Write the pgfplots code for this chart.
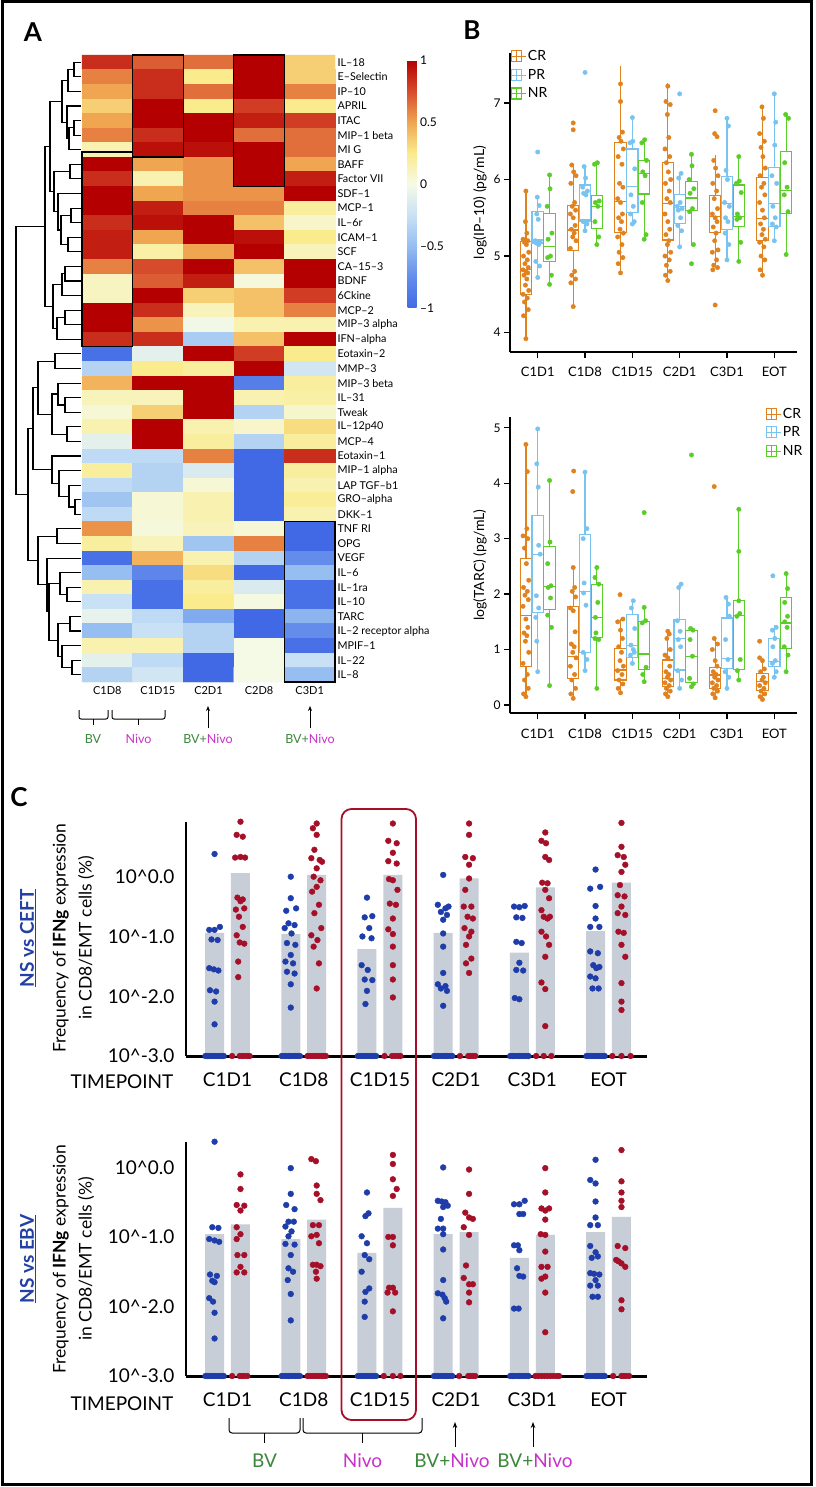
\documentclass[border=0pt]{standalone}
\usepackage{fontspec}
\setmainfont{Lato}
\usepackage{pgfplots}
\pgfplotsset{compat=1.18}
\usepgfplotslibrary{statistics}
\usetikzlibrary{arrows.meta}
\definecolor{crc}{RGB}{224,130,30}
\definecolor{prc}{RGB}{120,195,240}
\definecolor{nrc}{RGB}{90,205,40}
\definecolor{nsblue}{RGB}{30,60,170}
\definecolor{stred}{RGB}{165,15,40}
\definecolor{bargray}{RGB}{200,206,216}
\definecolor{bvgreen}{RGB}{60,135,60}
\definecolor{nivomag}{RGB}{200,50,200}
\definecolor{titleblue}{RGB}{35,65,165}
\newcommand{\fsz}[1]{\fontsize{#1}{#1}\selectfont}
\newcommand{\bx}[7]{\addplot[#1, line width=1.2pt, forget plot, boxplot prepared={draw direction=y, draw position=#2, lower whisker=#3, lower quartile=#4, median=#5, upper quartile=#6, upper whisker=#7, box extend=0.24, whisker extend=0}] coordinates {};}
\pgfplotsset{
 bax/.style={scale only axis, width=287pt, xmin=0.414, xmax=6.48,
   axis x line=bottom, axis y line=left, axis line style={line width=2pt,-},
   xtick={1,2,3,4,5,6}, xticklabels={C1D1,C1D8,C1D15,C2D1,C3D1,EOT},
   tick align=outside, major tick length=6pt, tick style={line width=1.4pt,black},
   xticklabel style={font=\fsz{13}, yshift=-6pt}, yticklabel style={font=\fsz{12}},
   /pgf/number format/assume math mode=true,
   ylabel style={font=\fsz{14}},
   legend style={draw=none, fill=none, font=\fsz{14}, row sep=3pt, inner sep=1pt},
   legend cell align=left},
 cax/.style={scale only axis, width=461pt, height=234.3pt, xmin=0.455, xmax=6.505, ymin=0,
   axis x line=bottom, axis y line=left,
   x axis line style={line width=3pt,-}, y axis line style={line width=1.5pt,-},
   xtick={1,2,3,4,5,6}, xticklabels={C1D1,C1D8,C1D15,C2D1,C3D1,EOT},
   ytick={0,1,2,3}, yticklabels={10\textasciicircum-3.0,10\textasciicircum-2.0,10\textasciicircum-1.0,10\textasciicircum0.0},
   major tick length=0pt,
   xticklabel style={font=\fsz{19}, yshift=-13pt},
   yticklabel style={font=\fsz{19}, xshift=-8pt},
   clip=false},
 bdot/.style={only marks, mark=*, mark size=2.2pt, forget plot},
 cdot/.style={only marks, mark=*, mark size=2.9pt, forget plot},
 dd/.style={black, solid, no markers, line width=1.1pt},
}
\begin{document}
\begin{tikzpicture}
\useasboundingbox (0,0) rectangle (815pt,-1487pt);
\fill[white] (0,0) rectangle (815pt,-1487pt);

% ---------------- Panel A: dendrogram ----------------
\begin{axis}[at={(0pt,-55pt)}, anchor=north west, scale only axis, width=82pt, height=627pt,
  xmin=0, xmax=82, ymin=0.5, ymax=43.5, y dir=reverse, hide axis, clip=false]
\addplot[dd] coordinates {(81,1)(74,1)(74,2)(81,2)};
\addplot[dd] coordinates {(74,1.5)(68,1.5)(68,3)(81,3)};
\addplot[dd] coordinates {(81,5)(74,5)(74,6)(81,6)};
\addplot[dd] coordinates {(74,5.5)(69,5.5)(69,7)(81,7)};
\addplot[dd] coordinates {(81,4)(67,4)(67,6.25)(69,6.25)};
\addplot[dd] coordinates {(68,2.25)(62,2.25)(62,5.125)(67,5.125)};
\addplot[dd] coordinates {(81,8)(70,8)(70,9)(81,9)};
\addplot[dd] coordinates {(81,11)(71,11)(71,12)(81,12)};
\addplot[dd] coordinates {(81,13)(68,13)(68,14)(81,14)};
\addplot[dd] coordinates {(71,11.5)(61,11.5)(61,13.5)(68,13.5)};
\addplot[dd] coordinates {(81,10)(58,10)(58,12.5)(61,12.5)};
\addplot[dd] coordinates {(70,8.5)(54,8.5)(54,11.25)(58,11.25)};
\addplot[dd] coordinates {(62,3.6875)(50,3.6875)(50,9.875)(54,9.875)};
\addplot[dd] coordinates {(81,15)(65,15)(65,16)(81,16)};
\addplot[dd] coordinates {(65,15.5)(62,15.5)(62,17)(81,17)};
\addplot[dd] coordinates {(81,18)(65,18)(65,19)(81,19)};
\addplot[dd] coordinates {(65,18.5)(57,18.5)(57,20)(81,20)};
\addplot[dd] coordinates {(62,16.25)(53,16.25)(53,19.25)(57,19.25)};
\addplot[dd] coordinates {(50,6.78)(45,6.78)(45,17.75)(53,17.75)};
\addplot[dd] coordinates {(81,21)(55,21)(55,22)(81,22)};
\addplot[dd] coordinates {(81,24)(65,24)(65,25)(81,25)};
\addplot[dd] coordinates {(81,23)(58,23)(58,24.5)(65,24.5)};
\addplot[dd] coordinates {(81,26)(67,26)(67,27)(81,27)};
\addplot[dd] coordinates {(58,23.75)(52,23.75)(52,26.5)(67,26.5)};
\addplot[dd] coordinates {(55,21.5)(38,21.5)(38,25.125)(52,25.125)};
\addplot[dd] coordinates {(81,31)(75,31)(75,32)(81,32)};
\addplot[dd] coordinates {(81,30)(69,30)(69,31.5)(75,31.5)};
\addplot[dd] coordinates {(81,29)(59,29)(59,30.75)(69,30.75)};
\addplot[dd] coordinates {(81,28)(52,28)(52,29.875)(59,29.875)};
\addplot[dd] coordinates {(38,23.31)(33,23.31)(33,28.94)(52,28.94)};
\addplot[dd] coordinates {(81,33)(57,33)(57,34)(81,34)};
\addplot[dd] coordinates {(81,37)(67,37)(67,38)(81,38)};
\addplot[dd] coordinates {(81,36)(60,36)(60,37.5)(67,37.5)};
\addplot[dd] coordinates {(81,39)(70,39)(70,40)(81,40)};
\addplot[dd] coordinates {(81,42)(72,42)(72,43)(81,43)};
\addplot[dd] coordinates {(81,41)(62,41)(62,42.5)(72,42.5)};
\addplot[dd] coordinates {(70,39.5)(58,39.5)(58,41.75)(62,41.75)};
\addplot[dd] coordinates {(60,36.75)(49,36.75)(49,40.625)(58,40.625)};
\addplot[dd] coordinates {(81,35)(47,35)(47,38.69)(49,38.69)};
\addplot[dd] coordinates {(57,33.5)(38,33.5)(38,36.84)(47,36.84)};
\addplot[dd] coordinates {(33,26.12)(28,26.12)(28,35.17)(38,35.17)};
\addplot[dd] coordinates {(45,12.27)(16,12.27)(16,30.65)(28,30.65)};
\end{axis}

% ---------------- Panel A: heatmap ----------------
\begin{axis}[at={(82pt,-55pt)}, anchor=north west, scale only axis, width=253pt, height=627pt,
  xmin=-0.5, xmax=4.5, ymin=0.5, ymax=43.5, y dir=reverse, clip=false,
  axis line style={draw=none}, major tick length=0pt,
  xtick={0,1,2,3,4}, xticklabels={C1D8,C1D15,C2D1,C2D8,C3D1},
  xticklabel style={font=\fsz{11}, yshift=-1pt},
  ytick={1,...,43},
  yticklabels={IL–18,E–Selectin,IP–10,APRIL,ITAC,MIP–1 beta,MI G,BAFF,Factor VII,SDF–1,MCP–1,IL–6r,ICAM–1,SCF,CA–15–3,BDNF,6Ckine,MCP–2,MIP–3 alpha,IFN–alpha,Eotaxin–2,MMP–3,MIP–3 beta,IL–31,Tweak,IL–12p40,MCP–4,Eotaxin–1,MIP–1 alpha,LAP TGF–b1,GRO–alpha,DKK–1,TNF RI,OPG,VEGF,IL–6,IL–1ra,IL–10,TARC,IL–2 receptor alpha,MPIF–1,IL–22,IL–8},
  yticklabel pos=right,
  yticklabel style={font=\fsz{10.8}, anchor=west, xshift=-1pt},
  colormap={hm}{rgb255=(65,105,230) rgb255=(100,140,235) rgb255=(150,190,240) rgb255=(200,225,245) rgb255=(245,250,230) rgb255=(250,235,140) rgb255=(240,165,80) rgb255=(215,75,45) rgb255=(180,0,0)},
  point meta min=-1, point meta max=1,
  colorbar,
  colorbar style={at={(parent axis.north east)}, anchor=north west, xshift=64pt, yshift=-5pt,
    width=9pt, height=248pt, ytick={-1,-0.5,0,0.5,1}, yticklabels={–1,–0.5,0,0.5,1},
    yticklabel style={font=\fsz{12}}, axis line style={draw=none}, major tick length=0pt},
]
\addplot[matrix plot*, mesh/cols=5, point meta=explicit] coordinates {
(0,1)[0.85] (1,1)[0.7] (2,1)[0.65] (3,1)[1] (4,1)[0.35]
(0,2)[0.6] (1,2)[0.85] (2,2)[0.25] (3,2)[1] (4,2)[0.35]
(0,3)[0.5] (1,3)[0.85] (2,3)[0.65] (3,3)[1] (4,3)[0.6]
(0,4)[0.35] (1,4)[1] (2,4)[0.25] (3,4)[0.8] (4,4)[0.25]
(0,5)[0.5] (1,5)[1] (2,5)[1] (3,5)[0.9] (4,5)[0.8]
(0,6)[0.6] (1,6)[0.85] (2,6)[1] (3,6)[0.65] (4,6)[0.65]
(0,7)[0.15] (1,7)[0.95] (2,7)[0.95] (3,7)[1] (4,7)[0.65]
(0,8)[1] (1,8)[0.5] (2,8)[0.55] (3,8)[1] (4,8)[0.5]
(0,9)[0.85] (1,9)[0.15] (2,9)[0.55] (3,9)[1] (4,9)[0.9]
(0,10)[1] (1,10)[0.5] (2,10)[0.55] (3,10)[0.55] (4,10)[1]
(0,11)[1] (1,11)[0.9] (2,11)[0.6] (3,11)[0.6] (4,11)[0.2]
(0,12)[0.85] (1,12)[0.95] (2,12)[1] (3,12)[0.4] (4,12)[0.08]
(0,13)[0.9] (1,13)[0.5] (2,13)[1] (3,13)[0.95] (4,13)[0.25]
(0,14)[0.9] (1,14)[0.18] (2,14)[0.5] (3,14)[1] (4,14)[0.12]
(0,15)[0.6] (1,15)[0.75] (2,15)[1] (3,15)[0.4] (4,15)[1]
(0,16)[0.1] (1,16)[0.7] (2,16)[0.9] (3,16)[0.03] (4,16)[1]
(0,17)[0.1] (1,17)[1] (2,17)[0.35] (3,17)[0.4] (4,17)[0.8]
(0,18)[1] (1,18)[0.85] (2,18)[0.12] (3,18)[0.4] (4,18)[0.6]
(0,19)[1] (1,19)[0.55] (2,19)[-0.02] (3,19)[0.15] (4,19)[0.15]
(0,20)[0.85] (1,20)[0.85] (2,20)[-0.4] (3,20)[0.4] (4,20)[1]
(0,21)[-0.95] (1,21)[-0.1] (2,21)[1] (3,21)[0.8] (4,21)[0.25]
(0,22)[-0.35] (1,22)[0.25] (2,22)[0.2] (3,22)[1] (4,22)[-0.2]
(0,23)[0.45] (1,23)[1] (2,23)[1] (3,23)[-0.85] (4,23)[0.2]
(0,24)[0.12] (1,24)[0.12] (2,24)[1] (3,24)[0.15] (4,24)[0.18]
(0,25)[0.05] (1,25)[0.35] (2,25)[1] (3,25)[-0.35] (4,25)[0.07]
(0,26)[0.15] (1,26)[1] (2,26)[0.15] (3,26)[0.08] (4,26)[0.3]
(0,27)[-0.1] (1,27)[1] (2,27)[0.2] (3,27)[-0.35] (4,27)[0.2]
(0,28)[-0.3] (1,28)[-0.3] (2,28)[0.6] (3,28)[-1] (4,28)[0.85]
(0,29)[0.2] (1,29)[-0.35] (2,29)[-0.15] (3,29)[-1] (4,29)[0.2]
(0,30)[-0.3] (1,30)[-0.35] (2,30)[0.05] (3,30)[-1] (4,30)[0.15]
(0,31)[-0.45] (1,31)[0.05] (2,31)[0.15] (3,31)[-1] (4,31)[0.22]
(0,32)[-0.3] (1,32)[0.05] (2,32)[0.15] (3,32)[-1] (4,32)[0.15]
(0,33)[0.55] (1,33)[0.03] (2,33)[0.12] (3,33)[0.05] (4,33)[-1]
(0,34)[0.2] (1,34)[0.12] (2,34)[-0.45] (3,34)[0.6] (4,34)[-1]
(0,35)[-0.95] (1,35)[0.45] (2,35)[0.15] (3,35)[-0.35] (4,35)[-0.75]
(0,36)[-0.5] (1,36)[-0.8] (2,36)[0.3] (3,36)[-1] (4,36)[-0.5]
(0,37)[0.15] (1,37)[-0.95] (2,37)[0.2] (3,37)[-0.15] (4,37)[-0.95]
(0,38)[-0.25] (1,38)[-0.95] (2,38)[0.25] (3,38)[0.02] (4,38)[-0.95]
(0,39)[-0.08] (1,39)[-0.3] (2,39)[-0.6] (3,39)[-1] (4,39)[-0.55]
(0,40)[-0.5] (1,40)[-0.25] (2,40)[-0.35] (3,40)[-1] (4,40)[-0.75]
(0,41)[0.15] (1,41)[0.15] (2,41)[-0.35] (3,41)[0.0] (4,41)[-0.95]
(0,42)[-0.1] (1,42)[-0.3] (2,42)[-1] (3,42)[0.0] (4,42)[-0.25]
(0,43)[-0.35] (1,43)[-0.2] (2,43)[-1] (3,43)[0.0] (4,43)[-0.5]
};
\draw[black, line width=1.3pt] (axis cs:0.5,0.5) rectangle (axis cs:1.5,7.5);
\draw[black, line width=1.3pt] (axis cs:2.5,0.5) rectangle (axis cs:3.5,9.5);
\draw[black, line width=1.3pt] (axis cs:-0.5,7.15) rectangle (axis cs:0.5,20.5);
\draw[black, line width=1.3pt] (axis cs:3.5,32.5) rectangle (axis cs:4.5,43.5);
\end{axis}

% annotations under heatmap
\draw[line width=1pt, rounded corners=2pt] (79pt,-710pt) -- (79pt,-719pt) -- (108pt,-719pt) -- (108pt,-710pt);
\draw[line width=1pt] (93.5pt,-719pt) -- (93.5pt,-725pt);
\draw[line width=1pt, rounded corners=2pt] (112pt,-710pt) -- (112pt,-719pt) -- (165pt,-719pt) -- (165pt,-710pt);
\draw[line width=1pt] (138.5pt,-719pt) -- (138.5pt,-725pt);
\draw[line width=1pt, -{Stealth[length=5pt,width=4pt]}] (208pt,-728pt) -- (208pt,-706pt);
\draw[line width=1pt, -{Stealth[length=5pt,width=4pt]}] (310pt,-728pt) -- (310pt,-706pt);
\node[font=\fsz{12.5}, text=bvgreen] at (93pt,-739pt) {BV};
\node[font=\fsz{12.5}, text=nivomag] at (138.5pt,-739pt) {Nivo};
\node[font=\fsz{12.5}] at (208pt,-739pt) {\textcolor{bvgreen}{BV+}\textcolor{nivomag}{Nivo}};
\node[font=\fsz{12.5}] at (310pt,-739pt) {\textcolor{bvgreen}{BV+}\textcolor{nivomag}{Nivo}};

% ---------------- Panel B top: IP-10 ----------------
\begin{axis}[bax, at={(510pt,-351.7pt)}, anchor=south west, height=298.4pt,
  ymin=3.75, ymax=7.65, ytick={4,5,6,7}, ylabel={log(IP–10) (pg/mL)},
  legend style={at={(0.0,1.02)}, anchor=north west},
  legend image code/.code={\draw[#1, line width=1.1pt] (0pt,-5.5pt) rectangle (10pt,5.5pt); \draw[#1, line width=0.7pt] (0pt,0pt) -- (10pt,0pt) (5pt,-5.5pt) -- (5pt,5.5pt); \path (0pt,0pt) -- (14pt,0pt);}]
\bx{crc}{0.75}{3.93}{4.50}{4.82}{5.19}{5.87}
\bx{crc}{1.75}{4.34}{5.07}{5.34}{5.66}{6.19}
\bx{crc}{2.75}{4.77}{5.31}{5.71}{6.48}{7.48}
\bx{crc}{3.75}{4.68}{5.21}{5.69}{6.22}{7.26}
\bx{crc}{4.75}{4.88}{5.31}{5.52}{5.79}{6.32}
\bx{crc}{5.75}{4.72}{5.20}{5.49}{6.03}{6.98}
\bx{prc}{1}{4.71}{5.17}{5.21}{5.58}{5.80}
\bx{prc}{2}{5.32}{5.45}{5.47}{5.93}{6.18}
\bx{prc}{3}{5.41}{5.57}{5.91}{6.40}{6.83}
\bx{prc}{4}{5.12}{5.43}{5.65}{5.80}{6.08}
\bx{prc}{5}{4.95}{5.35}{5.69}{6.04}{6.81}
\bx{prc}{6}{5.19}{5.39}{5.69}{6.16}{7.13}
\bx{nrc}{1.25}{4.62}{4.93}{5.13}{5.56}{6.06}
\bx{nrc}{2.25}{5.14}{5.36}{5.65}{5.79}{6.24}
\bx{nrc}{3.25}{5.21}{5.81}{6.08}{6.25}{6.54}
\bx{nrc}{4.25}{5.13}{5.60}{5.76}{5.97}{6.35}
\bx{nrc}{5.25}{4.93}{5.39}{5.52}{5.93}{6.30}
\bx{nrc}{6.25}{5.01}{5.56}{5.86}{6.37}{6.87}
\addplot[bdot, crc] coordinates {
(0.75,3.92)(0.70,4.22)(0.80,4.30)(0.72,4.40)(0.78,4.45)(0.69,4.50)(0.81,4.55)(0.74,4.62)(0.77,4.70)(0.71,4.75)(0.79,4.78)(0.75,4.80)(0.69,4.82)(0.80,4.85)(0.73,4.90)(0.78,4.95)(0.70,5.00)(0.81,5.05)(0.76,5.15)(0.72,5.18)(0.79,5.20)(0.69,5.22)(0.77,5.30)(0.74,5.45)(0.75,5.85)
(1.75,4.34)(1.70,4.65)(1.80,4.70)(1.72,4.75)(1.78,4.80)(1.69,5.10)(1.81,5.20)(1.74,5.25)(1.77,5.30)(1.71,5.35)(1.79,5.40)(1.75,5.50)(1.69,5.55)(1.80,5.60)(1.73,5.65)(1.78,5.70)(1.70,5.95)(1.81,6.05)(1.76,6.10)(1.72,6.19)(1.75,6.65)(1.75,6.74)
(2.75,4.78)(2.70,4.90)(2.80,4.98)(2.72,5.05)(2.78,5.15)(2.69,5.25)(2.81,5.30)(2.74,5.35)(2.77,5.45)(2.71,5.50)(2.79,5.55)(2.75,5.70)(2.69,5.75)(2.80,5.90)(2.73,5.95)(2.78,6.20)(2.70,6.30)(2.81,6.40)(2.76,6.50)(2.72,6.55)(2.79,6.62)(2.75,7.02)(2.75,7.25)
(3.75,4.68)(3.70,4.75)(3.80,4.80)(3.72,4.88)(3.78,4.95)(3.69,5.00)(3.81,5.05)(3.74,5.15)(3.77,5.20)(3.71,5.28)(3.79,5.35)(3.75,5.45)(3.69,5.55)(3.80,5.70)(3.73,5.75)(3.78,5.85)(3.70,5.95)(3.81,6.00)(3.76,6.10)(3.72,6.22)(3.79,6.30)(3.69,6.40)(3.77,6.55)(3.74,6.85)(3.80,6.98)(3.71,7.02)(3.75,7.22)
(4.75,4.36)(4.70,4.82)(4.80,4.85)(4.72,4.88)(4.78,4.95)(4.69,5.05)(4.81,5.08)(4.74,5.20)(4.77,5.30)(4.71,5.38)(4.79,5.45)(4.75,5.50)(4.69,5.55)(4.80,5.62)(4.73,5.75)(4.78,5.85)(4.70,5.95)(4.81,6.05)(4.76,6.15)(4.72,6.25)(4.79,6.56)(4.74,6.60)(4.75,6.90)
(5.75,4.75)(5.70,4.82)(5.80,4.95)(5.72,5.00)(5.78,5.12)(5.69,5.18)(5.81,5.22)(5.74,5.28)(5.77,5.35)(5.71,5.42)(5.79,5.50)(5.75,5.60)(5.69,5.70)(5.80,5.80)(5.73,5.90)(5.78,5.95)(5.70,6.05)(5.81,6.15)(5.76,6.30)(5.72,6.42)(5.79,6.50)(5.69,6.60)(5.77,6.80)(5.74,6.95)
};
\addplot[bdot, prc] coordinates {
(1.00,4.72)(1.04,4.87)(0.96,4.93)(1.02,5.15)(0.97,5.17)(1.05,5.18)(0.95,5.20)(1.01,5.48)(0.98,5.55)(1.03,5.66)(0.99,5.77)(1.00,6.36)
(2.00,5.33)(2.04,5.42)(1.96,5.45)(2.02,5.80)(1.97,5.82)(2.05,5.85)(1.95,5.90)(2.01,6.02)(1.98,6.17)(2.00,7.40)
(3.00,5.42)(3.04,5.45)(2.96,5.55)(3.02,5.65)(2.97,5.80)(3.05,6.14)(2.95,6.48)(3.01,6.50)(3.00,6.81)
(4.00,5.12)(4.04,5.33)(3.96,5.40)(4.02,5.50)(3.97,5.60)(4.05,5.62)(3.95,5.65)(4.01,5.70)(3.98,6.02)(4.03,6.08)(4.00,7.12)
(5.00,4.95)(5.04,5.15)(4.96,5.30)(5.02,5.45)(4.97,5.50)(5.05,5.65)(4.95,5.70)(5.01,6.00)(4.98,6.12)(5.03,6.70)(5.00,6.80)
(6.00,5.20)(6.04,5.38)(5.96,5.42)(6.02,5.50)(5.97,5.65)(6.05,5.95)(5.95,6.05)(6.01,6.45)(6.03,6.75)(6.00,7.12)
};
\addplot[bdot, nrc] coordinates {
(1.25,4.63)(1.29,4.75)(1.21,4.98)(1.27,5.00)(1.22,5.22)(1.30,5.30)(1.20,5.65)(1.26,5.88)(1.25,6.06)
(2.25,5.15)(2.29,5.25)(2.21,5.45)(2.27,5.65)(2.22,5.70)(2.30,5.72)(2.20,6.20)(2.26,6.22)
(3.25,5.22)(3.29,5.28)(3.21,5.70)(3.27,6.05)(3.22,6.10)(3.30,6.25)(3.20,6.48)(3.26,6.52)
(4.25,4.90)(4.29,5.15)(4.21,5.58)(4.27,5.62)(4.22,5.82)(4.30,5.88)(4.20,6.00)(4.26,6.18)(4.25,6.33)
(5.25,4.93)(5.29,5.18)(5.21,5.48)(5.27,5.50)(5.22,5.55)(5.30,5.83)(5.20,5.95)(5.26,5.98)(5.25,6.30)
(6.25,5.02)(6.29,5.58)(6.21,5.80)(6.27,5.90)(6.22,6.22)(6.30,6.80)(6.24,6.85)
};
\addlegendimage{crc}\addlegendentry{CR}
\addlegendimage{prc}\addlegendentry{PR}
\addlegendimage{nrc}\addlegendentry{NR}
\end{axis}

% ---------------- Panel B bottom: TARC ----------------
\begin{axis}[bax, at={(510pt,-713.3pt)}, anchor=south west, height=296.6pt,
  ymin=-0.15, ymax=5.2, ytick={0,1,2,3,4,5}, ylabel={log(TARC) (pg/mL)},
  legend style={at={(1.03,1.04)}, anchor=north east},
  legend image code/.code={\draw[#1, line width=1.1pt] (0pt,-5.5pt) rectangle (10pt,5.5pt); \draw[#1, line width=0.7pt] (0pt,0pt) -- (10pt,0pt) (5pt,-5.5pt) -- (5pt,5.5pt); \path (0pt,0pt) -- (14pt,0pt);}]
\bx{crc}{0.75}{0.14}{0.69}{1.62}{2.64}{4.71}
\bx{crc}{1.75}{0.09}{0.48}{0.88}{1.78}{2.47}
\bx{crc}{2.75}{0.20}{0.45}{0.63}{1.02}{1.55}
\bx{crc}{3.75}{0.12}{0.33}{0.48}{0.81}{1.35}
\bx{crc}{4.75}{0.09}{0.30}{0.54}{0.67}{1.23}
\bx{crc}{5.75}{0.09}{0.26}{0.42}{0.57}{0.82}
\bx{prc}{1}{0.58}{1.67}{2.71}{3.42}{4.99}
\bx{prc}{2}{0.60}{0.94}{2.05}{3.07}{4.21}
\bx{prc}{3}{0.72}{0.86}{1.08}{1.63}{1.90}
\bx{prc}{4}{0.27}{0.63}{1.20}{1.54}{2.18}
\bx{prc}{5}{0.27}{0.66}{0.84}{1.57}{1.97}
\bx{prc}{6}{0.48}{0.69}{0.78}{1.20}{1.44}
\bx{nrc}{1.25}{0.34}{1.72}{2.14}{2.86}{4.07}
\bx{nrc}{2.25}{0.30}{1.22}{1.58}{2.17}{2.47}
\bx{nrc}{3.25}{0.42}{0.64}{0.92}{1.51}{1.78}
\bx{nrc}{4.25}{0.33}{0.40}{0.88}{1.35}{1.41}
\bx{nrc}{5.25}{0.42}{0.64}{1.61}{1.89}{3.53}
\bx{nrc}{6.25}{0.60}{1.02}{1.48}{1.94}{2.37}
\addplot[bdot, crc] coordinates {
(0.75,0.15)(0.70,0.20)(0.80,0.30)(0.72,0.45)(0.78,0.55)(0.69,0.75)(0.81,0.95)(0.74,1.15)(0.77,1.25)(0.71,1.30)(0.79,1.40)(0.75,1.55)(0.69,1.78)(0.80,1.90)(0.73,1.98)(0.78,2.05)(0.70,2.12)(0.81,2.25)(0.76,2.55)(0.72,2.83)(0.79,3.00)(0.69,3.05)(0.77,3.18)(0.78,4.21)(0.75,4.70)
(1.75,0.12)(1.70,0.20)(1.80,0.30)(1.72,0.45)(1.78,0.55)(1.69,0.70)(1.81,0.85)(1.74,0.95)(1.77,1.05)(1.71,1.10)(1.79,1.32)(1.75,1.70)(1.69,1.75)(1.80,1.95)(1.73,2.05)(1.78,2.12)(1.75,2.48)(1.74,3.85)(1.76,4.22)
(2.75,0.22)(2.70,0.30)(2.80,0.38)(2.72,0.45)(2.78,0.55)(2.69,0.62)(2.81,0.70)(2.74,0.80)(2.77,0.95)(2.71,1.05)(2.79,1.20)(2.75,1.35)(2.69,1.50)(2.80,1.55)(2.74,1.99)
(3.75,0.15)(3.70,0.20)(3.80,0.25)(3.72,0.30)(3.78,0.35)(3.69,0.40)(3.81,0.45)(3.74,0.50)(3.77,0.55)(3.71,0.60)(3.79,0.70)(3.75,0.85)(3.69,0.90)(3.80,1.00)(3.73,1.20)(3.78,1.28)(3.75,1.33)
(4.75,0.13)(4.70,0.20)(4.80,0.25)(4.72,0.30)(4.78,0.35)(4.69,0.40)(4.81,0.45)(4.74,0.50)(4.77,0.55)(4.71,0.60)(4.79,0.70)(4.75,0.80)(4.69,1.00)(4.80,1.10)(4.73,1.20)(4.73,3.94)
(5.75,0.10)(5.70,0.15)(5.80,0.20)(5.72,0.25)(5.78,0.30)(5.69,0.35)(5.81,0.40)(5.74,0.45)(5.77,0.50)(5.71,0.60)(5.79,0.65)(5.75,0.80)(5.69,0.85)(5.69,1.15)
};
\addplot[bdot, prc] coordinates {
(1.00,0.60)(0.98,1.15)(0.96,1.58)(1.02,1.75)(0.97,1.97)(1.05,2.72)(1.02,2.88)(1.01,3.93)(0.98,4.35)(1.00,4.98)
(2.00,0.62)(2.04,0.82)(1.96,0.95)(2.02,1.80)(1.97,2.02)(1.98,2.20)(1.96,3.00)(2.04,3.18)(2.00,4.20)
(3.00,0.75)(2.96,0.90)(3.04,0.95)(3.02,1.00)(2.97,1.08)(3.05,1.38)(2.98,1.75)(3.02,1.88)
(4.00,0.30)(4.04,0.45)(3.96,0.62)(4.02,1.05)(3.97,1.18)(4.01,1.33)(3.95,1.52)(3.98,2.12)(4.03,2.18)
(5.00,0.30)(5.04,0.50)(4.96,0.60)(5.02,0.82)(4.97,1.18)(5.05,1.60)(5.03,1.82)(4.98,1.94)
(6.00,0.50)(6.04,0.60)(5.96,0.75)(6.02,0.80)(5.97,1.05)(6.01,1.20)(5.96,1.35)(6.04,1.40)(5.97,2.33)
};
\addplot[bdot, nrc] coordinates {
(1.25,0.35)(1.29,1.40)(1.21,1.62)(1.27,1.93)(1.22,2.12)(1.28,2.15)(1.21,2.55)(1.26,2.94)(1.25,4.05)
(2.25,0.30)(2.29,1.18)(2.21,1.20)(2.23,1.30)(2.22,1.58)(2.27,1.85)(2.29,2.18)(2.21,2.30)(2.25,2.48)
(3.25,0.42)(3.22,0.55)(3.29,0.68)(3.21,1.48)(3.28,1.52)(3.25,1.76)(3.25,3.47)
(4.25,0.33)(4.29,0.38)(4.21,0.48)(4.27,0.88)(4.22,1.18)(4.28,1.35)(4.23,1.38)(4.25,4.51)
(5.25,0.45)(5.22,0.62)(5.28,0.82)(5.21,1.60)(5.27,1.65)(5.25,1.88)(5.25,2.77)(5.25,3.53)
(6.25,0.60)(6.29,0.90)(6.21,1.05)(6.27,1.40)(6.22,1.50)(6.28,1.60)(6.22,1.85)(6.28,2.10)(6.25,2.37)
};
\addlegendimage{crc}\addlegendentry{CR}
\addlegendimage{prc}\addlegendentry{PR}
\addlegendimage{nrc}\addlegendentry{NR}
\end{axis}

% ---------------- Panel C top: NS vs CEFT ----------------
\begin{axis}[cax, at={(186pt,-1056pt)}, anchor=south west, ymax=3.92]
\addplot[ybar, bar width=19pt, bar shift=0pt, fill=bargray, draw=none, forget plot] coordinates {(0.83,2.06)(1.83,2.04)(2.83,1.79)(3.83,2.06)(4.83,1.73)(5.83,2.09)};
\addplot[ybar, bar width=19pt, bar shift=0pt, fill=bargray, draw=none, forget plot] coordinates {(1.17,3.06)(2.17,3.03)(3.17,3.03)(4.17,2.97)(5.17,2.82)(6.17,2.90)};
\addplot[cdot, nsblue] coordinates {
(0.83,3.38)(0.90,2.16)(0.76,2.11)(0.83,2.11)(0.79,1.95)(0.87,1.94)(0.76,1.47)(0.88,1.43)(0.82,1.45)(0.77,1.10)(0.85,1.08)(0.83,0.91)(0.83,0.53)
(1.83,3.0)(1.83,2.64)(1.77,2.43)(1.90,2.47)(1.80,2.22)(1.88,2.19)(1.75,2.14)(1.84,2.05)(1.78,1.89)(1.89,1.86)(1.83,1.69)(1.76,1.58)(1.86,1.55)(1.78,1.41)(1.88,1.38)(1.83,1.20)(1.83,0.81)
(2.83,2.65)(2.90,2.34)(2.80,2.32)(2.86,2.14)(2.77,2.0)(2.89,1.97)(2.76,1.52)(2.84,1.44)(2.80,1.28)(2.90,1.27)(2.83,1.09)(2.81,0.87)
(3.83,3.03)(3.76,2.53)(3.90,2.50)(3.86,2.47)(3.80,2.41)(3.88,2.36)(3.83,2.28)(3.83,2.05)(3.83,1.83)(3.83,1.39)(3.76,1.20)(3.86,1.17)(3.80,1.13)(3.88,1.09)(3.83,0.84)
(4.76,2.50)(4.83,2.49)(4.90,2.51)(4.79,2.32)(4.87,2.31)(4.79,1.91)(4.86,1.89)(4.83,1.56)(4.79,1.44)(4.88,1.43)(4.77,0.97)(4.83,0.95)
(5.83,3.12)(5.76,2.80)(5.89,2.83)(5.83,2.51)(5.83,2.30)(5.76,2.16)(5.88,2.16)(5.76,1.75)(5.86,1.72)(5.80,1.52)(5.88,1.49)(5.84,1.47)(5.76,1.33)(5.83,1.30)(5.79,1.13)(5.87,1.13)
(0.71,0)(0.74,0)(0.77,0)(0.80,0)(0.83,0)(0.86,0)(0.89,0)(0.92,0)(0.95,0)
(1.71,0)(1.74,0)(1.77,0)(1.80,0)(1.83,0)(1.86,0)(1.89,0)(1.92,0)(1.95,0)
(2.71,0)(2.74,0)(2.77,0)(2.80,0)(2.83,0)(2.86,0)(2.89,0)(2.92,0)(2.95,0)
(3.71,0)(3.74,0)(3.77,0)(3.80,0)(3.83,0)(3.86,0)(3.89,0)(3.92,0)(3.95,0)
(4.71,0)(4.74,0)(4.77,0)(4.80,0)(4.83,0)(4.86,0)(4.89,0)(4.92,0)(4.95,0)
(5.71,0)(5.74,0)(5.77,0)(5.80,0)(5.83,0)(5.86,0)(5.89,0)(5.92,0)(5.95,0)
};
\addplot[cdot, stred] coordinates {
(1.17,3.92)(1.12,3.70)(1.20,3.67)(1.10,3.32)(1.17,3.33)(1.23,3.32)(1.13,2.65)(1.20,2.62)(1.17,2.59)(1.11,2.45)(1.22,2.47)(1.15,2.33)(1.20,2.16)(1.12,2.02)(1.16,1.90)(1.22,1.88)(1.14,1.58)(1.14,1.32)
(2.17,3.89)(2.12,3.81)(2.17,3.70)(2.14,3.45)(2.10,3.31)(2.21,3.28)(2.24,3.25)(2.17,3.14)(2.13,3.00)(2.22,2.94)(2.17,2.83)(2.11,2.75)(2.20,2.53)(2.14,2.39)(2.23,2.14)(2.10,2.02)(2.18,1.94)(2.13,1.83)(2.20,1.55)(2.17,1.13)
(3.17,3.89)(3.11,3.60)(3.22,3.56)(3.17,3.40)(3.11,3.26)(3.22,3.22)(3.12,2.96)(3.17,2.94)(3.23,2.78)(3.13,2.55)(3.21,2.53)(3.17,2.30)(3.11,2.12)(3.17,2.04)(3.17,1.83)(3.17,1.52)(3.17,1.28)(3.17,0.98)
(4.17,3.89)(4.17,3.70)(4.12,3.33)(4.22,3.31)(4.17,3.20)(4.17,2.97)(4.12,2.78)(4.10,2.50)(4.20,2.50)(4.15,2.33)(4.22,2.30)(4.11,2.14)(4.20,2.08)(4.17,2.00)(4.13,1.86)(4.20,1.63)(4.13,1.55)(4.17,1.39)
(5.17,3.74)(5.12,3.60)(5.18,3.56)(5.17,3.33)(5.22,3.28)(5.13,2.90)(5.20,2.89)(5.17,2.78)(5.22,2.64)(5.12,2.44)(5.15,2.33)(5.20,2.30)(5.23,2.33)(5.12,2.08)(5.18,2.00)(5.22,1.86)(5.17,1.66)(5.12,1.23)(5.17,1.12)(5.17,0.50)
(6.17,3.90)(6.17,3.50)(6.12,3.36)(6.20,3.33)(6.22,3.20)(6.17,3.08)(6.15,2.86)(6.12,2.69)(6.21,2.67)(6.17,2.50)(6.12,2.39)(6.22,2.36)(6.13,2.08)(6.20,2.06)(6.17,1.86)(6.22,1.66)(6.17,1.22)(6.17,0.91)(6.17,0.77)
(1.06,0)(1.16,0)(1.19,0)(1.22,0)(1.26,0)(1.29,0)
(2.05,0)(2.08,0)(2.11,0)(2.14,0)(2.17,0)(2.20,0)(2.23,0)(2.26,0)(2.29,0)
(3.06,0)(3.16,0)(3.20,0)(3.24,0)(3.27,0)
(4.05,0)(4.16,0)(4.19,0)(4.22,0)(4.25,0)
(5.05,0)(5.15,0)(5.25,0)
(6.05,0)(6.17,0)(6.29,0)
};
\end{axis}

% ---------------- Panel C bottom: NS vs EBV ----------------
\begin{axis}[cax, at={(186pt,-1376pt)}, anchor=south west, ymax=3.37]
\addplot[ybar, bar width=19pt, bar shift=0pt, fill=bargray, draw=none, forget plot] coordinates {(0.83,2.04)(1.83,1.97)(2.83,1.77)(3.83,2.04)(4.83,1.70)(5.83,2.07)};
\addplot[ybar, bar width=19pt, bar shift=0pt, fill=bargray, draw=none, forget plot] coordinates {(1.17,2.18)(2.17,2.25)(3.17,2.42)(4.17,2.07)(5.17,2.03)(6.17,2.29)};
\addplot[cdot, nsblue] coordinates {
(0.83,3.37)(0.80,2.14)(0.88,2.13)(0.76,1.97)(0.83,1.95)(0.89,1.93)(0.77,1.46)(0.86,1.44)(0.80,1.37)(0.83,1.35)(0.76,1.12)(0.81,1.07)(0.83,0.91)(0.83,0.54)
(1.83,2.99)(1.83,2.62)(1.77,2.46)(1.88,2.40)(1.80,2.22)(1.87,2.22)(1.76,2.15)(1.84,2.08)(1.80,2.01)(1.76,1.90)(1.88,1.89)(1.83,1.74)(1.80,1.55)(1.86,1.50)(1.79,1.38)(1.83,1.18)(1.83,0.80)
(2.83,2.64)(2.85,2.34)(2.81,2.30)(2.76,2.01)(2.83,1.91)(2.80,1.74)(2.86,1.68)(2.76,1.50)(2.86,1.26)(2.81,1.21)(2.80,1.07)(2.80,0.85)
(3.83,3.0)(3.76,2.52)(3.81,2.51)(3.86,2.50)(3.89,2.45)(3.83,2.43)(3.80,2.26)(3.76,2.12)(3.83,2.12)(3.83,2.04)(3.83,1.82)(3.83,1.38)(3.76,1.19)(3.82,1.17)(3.85,1.12)(3.87,1.07)(3.83,0.83)
(4.76,2.47)(4.83,2.47)(4.90,2.52)(4.83,2.33)(4.88,2.33)(4.76,1.88)(4.81,1.88)(4.83,1.81)(4.80,1.55)(4.83,1.44)(4.88,1.43)(4.76,0.97)(4.82,0.97)
(5.83,3.11)(5.76,2.82)(5.83,2.77)(5.83,2.51)(5.83,2.28)(5.76,2.17)(5.86,2.17)(5.76,1.87)(5.83,1.78)(5.86,1.72)(5.78,1.70)(5.76,1.48)(5.81,1.47)(5.88,1.46)(5.83,1.38)(5.76,1.30)(5.86,1.30)(5.79,1.14)(5.86,1.14)
(0.71,0)(0.74,0)(0.77,0)(0.80,0)(0.83,0)(0.86,0)(0.89,0)(0.92,0)(0.95,0)
(1.71,0)(1.74,0)(1.77,0)(1.80,0)(1.83,0)(1.86,0)(1.89,0)(1.92,0)(1.95,0)
(2.71,0)(2.74,0)(2.77,0)(2.80,0)(2.83,0)(2.86,0)(2.89,0)(2.92,0)(2.95,0)
(3.71,0)(3.74,0)(3.77,0)(3.80,0)(3.83,0)(3.86,0)(3.89,0)(3.92,0)(3.95,0)
(4.71,0)(4.74,0)(4.77,0)(4.80,0)(4.83,0)(4.86,0)(4.89,0)(4.92,0)(4.95,0)
(5.71,0)(5.74,0)(5.77,0)(5.80,0)(5.83,0)(5.86,0)(5.89,0)(5.92,0)(5.95,0)
};
\addplot[cdot, stred] coordinates {
(1.17,2.90)(1.17,2.69)(1.12,2.46)(1.22,2.45)(1.17,2.38)(1.12,2.14)(1.17,2.04)(1.12,1.97)(1.13,1.74)(1.22,1.74)(1.17,1.57)(1.12,1.49)(1.22,1.49)
(2.10,3.12)(2.16,3.09)(2.17,2.74)(2.17,2.62)(2.22,2.53)(2.12,2.17)(2.20,2.17)(2.17,2.03)(2.10,2.01)(2.20,1.91)(2.12,1.60)(2.17,1.60)(2.22,1.58)(2.16,1.50)(2.17,1.40)
(3.17,3.18)(3.17,3.05)(3.17,2.83)(3.22,2.69)(3.17,2.59)(3.11,2.00)(3.17,2.00)(3.17,1.88)(3.12,1.27)(3.17,1.27)(3.10,1.20)(3.20,1.20)(3.17,0.93)
(4.17,2.97)(4.17,2.62)(4.12,2.35)(4.17,2.28)(4.22,2.26)(4.10,2.14)(4.17,2.03)(4.13,1.59)(4.10,1.41)(4.17,1.32)(4.22,1.32)(4.17,1.20)(4.17,1.06)
(5.17,2.99)(5.17,2.64)(5.12,2.41)(5.22,2.41)(5.17,2.38)(5.17,2.25)(5.11,2.04)(5.17,2.03)(5.17,1.79)(5.12,1.57)(5.20,1.57)(5.17,1.43)(5.12,1.40)(5.17,1.20)(5.17,0.63)
(6.17,3.25)(6.17,2.80)(6.17,2.64)(6.17,2.52)(6.17,2.43)(6.12,1.87)(6.22,1.84)(6.10,1.67)(6.13,1.65)(6.17,1.62)(6.22,1.57)(6.17,1.09)(6.17,0.96)
(1.06,0)(1.16,0)(1.19,0)(1.22,0)(1.26,0)
(2.05,0)(2.08,0)(2.11,0)(2.14,0)(2.17,0)(2.20,0)(2.23,0)(2.26,0)(2.29,0)
(3.05,0)(3.17,0)(3.27,0)
(4.04,0)(4.16,0)(4.19,0)(4.22,0)(4.25,0)
(5.04,0)(5.08,0)(5.12,0)(5.16,0)(5.20,0)(5.24,0)(5.28,0)(5.32,0)(5.35,0)
(6.06,0)(6.17,0)(6.20,0)(6.23,0)(6.27,0)
};
\end{axis}

% Panel C texts
\node[rotate=90, font=\fsz{19}\bfseries, text=titleblue] at (28pt,-938pt) {\underline{NS vs CEFT}};
\node[rotate=90, font=\fontsize{17.5}{26}\selectfont, align=center] at (73.5pt,-938pt) {Frequency of \textbf{IFNg} expression\\in CD8/EMT cells (\%)};
\node[rotate=90, font=\fsz{19}\bfseries, text=titleblue] at (28pt,-1259pt) {\underline{NS vs EBV}};
\node[rotate=90, font=\fontsize{17.5}{26}\selectfont, align=center] at (73.5pt,-1259pt) {Frequency of \textbf{IFNg} expression\\in CD8/EMT cells (\%)};
\node[font=\fsz{19}] at (122pt,-1081.7pt) {TIMEPOINT};
\node[font=\fsz{19}] at (122pt,-1403.3pt) {TIMEPOINT};
\draw[stred, line width=1.8pt, rounded corners=10pt] (341.5pt,-809pt) rectangle (416pt,-1420pt);

\draw[line width=1pt, rounded corners=3pt] (229pt,-1418pt) -- (229pt,-1433pt) -- (300pt,-1433pt) -- (300pt,-1418pt);
\draw[line width=1pt] (264.5pt,-1433pt) -- (264.5pt,-1443pt);
\draw[line width=1pt, rounded corners=3pt] (303pt,-1418pt) -- (303pt,-1433pt) -- (422pt,-1433pt) -- (422pt,-1418pt);
\draw[line width=1pt] (362.5pt,-1433pt) -- (362.5pt,-1443pt);
\draw[line width=1pt, -{Stealth[length=6pt,width=4.5pt]}] (455pt,-1447pt) -- (455pt,-1422pt);
\draw[line width=1pt, -{Stealth[length=6pt,width=4.5pt]}] (533pt,-1447pt) -- (533pt,-1422pt);
\node[font=\fsz{19}, text=bvgreen] at (264.5pt,-1461pt) {BV};
\node[font=\fsz{19}, text=nivomag] at (362.5pt,-1461pt) {Nivo};
\node[font=\fsz{19}] at (452pt,-1461pt) {\textcolor{bvgreen}{BV+}\textcolor{nivomag}{Nivo}};
\node[font=\fsz{19}] at (535pt,-1461pt) {\textcolor{bvgreen}{BV+}\textcolor{nivomag}{Nivo}};

% panel letters and frame
\node[font=\fsz{26}\bfseries] at (33pt,-32pt) {A};
\node[font=\fsz{26}\bfseries] at (472pt,-30pt) {B};
\node[font=\fsz{26}\bfseries] at (19pt,-797pt) {C};
\draw[line width=3pt] (2pt,-2pt) rectangle (811pt,-1484pt);
\end{tikzpicture}
\end{document}
